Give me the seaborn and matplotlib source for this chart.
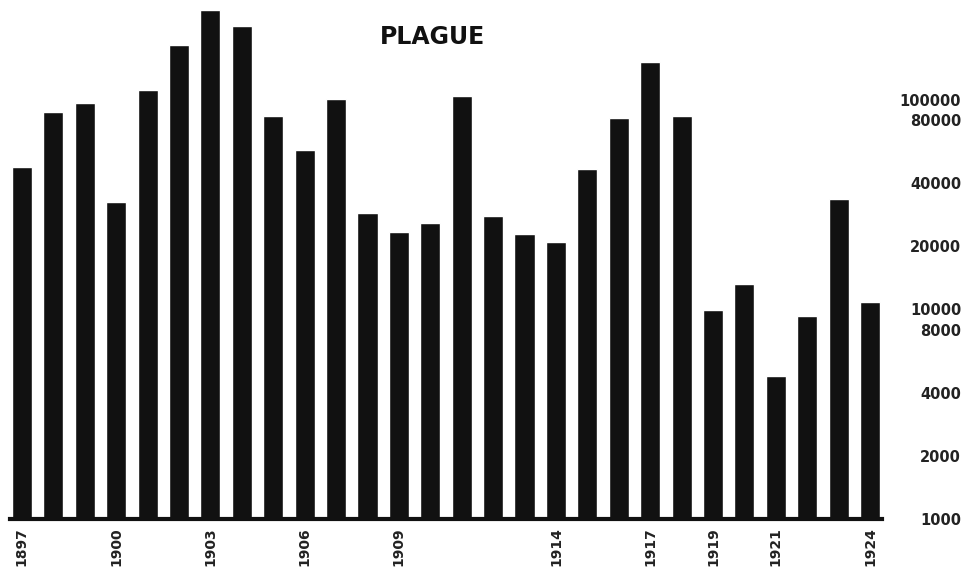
import matplotlib
matplotlib.use("Agg")
import matplotlib.pyplot as plt
import matplotlib.ticker as mticker
import seaborn as sns
import pandas as pd

# Yearly plague figures
years = list(range(1897, 1925))
cases = [48000, 88000, 97000, 32500, 112000, 183000, 270000, 226000, 84000, 58000,
         101000, 29000, 23500, 26000, 104000, 28000, 23000, 21000, 47000, 82000,
         152000, 84000, 9900, 13200, 4800, 9300, 33500, 10900]
labelled_years = [1897, 1900, 1903, 1906, 1909, 1914, 1917, 1919, 1921, 1924]
y_ticks = [1000, 2000, 4000, 8000, 10000, 20000, 40000, 80000, 100000]

df = pd.DataFrame({"Year": [str(y) for y in years], "Cases": cases})

sns.set_style("white")
plt.rcParams["font.family"] = ["DejaVu Sans"]

fig = plt.figure(figsize=(9.65, 5.77), dpi=100)
ax = fig.add_axes([10 / 965, 58 / 577, 872 / 965, 519 / 577])

sns.barplot(data=df, x="Year", y="Cases", color="#111111", width=0.64,
            saturation=1, ax=ax)
ax.set_yscale("log")
ax.set_ylim(1000, 300000)
ax.set_xlim(-0.38, len(years) - 1 + 0.38)

# right-hand value labels, no tick marks
ax.yaxis.tick_right()
ax.yaxis.set_major_locator(mticker.FixedLocator(y_ticks))
ax.yaxis.set_minor_locator(mticker.NullLocator())
ax.set_yticklabels([str(v) for v in y_ticks], fontsize=10.5, fontweight="bold",
                   color="#222222", ha="right")
ax.tick_params(axis="y", length=0, pad=57)

# only a few years labelled, written vertically
pos = [years.index(y) for y in labelled_years]
ax.set_xticks(pos)
ax.set_xticklabels([str(y) for y in labelled_years], rotation=90, fontsize=10,
                   fontweight="bold", color="#222222")
ax.tick_params(axis="x", length=0, pad=6)

ax.set_xlabel("")
ax.set_ylabel("")
for s in ["top", "left", "right"]:
    ax.spines[s].set_visible(False)
ax.spines["bottom"].set_linewidth(3)
ax.spines["bottom"].set_color("#111111")

fig.text(432 / 965, 1 - 37 / 577, "PLAGUE", ha="center", va="center",
         fontsize=17, fontweight="bold", color="#111111")

fig.savefig("out.png", dpi=100)
